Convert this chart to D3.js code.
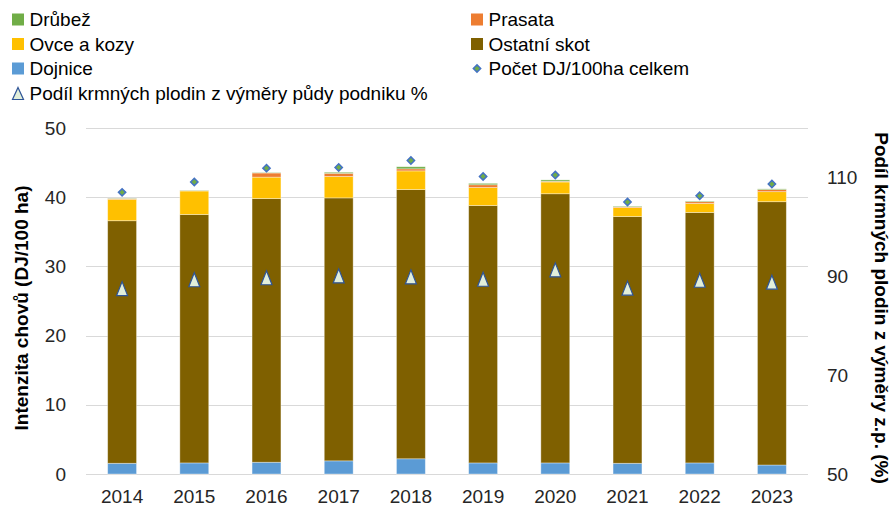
<!DOCTYPE html>
<html>
<head>
<meta charset="utf-8">
<script src="https://cdn.jsdelivr.net/npm/d3@7"></script>
<style>
  body { margin: 0; background: #fff; }
  svg { font-family: "Liberation Sans", Arial, sans-serif; }
</style>
</head>
<body>
<div id="graph"></div>
<script>
const years = ["2014", "2015", "2016", "2017", "2018", "2019", "2020", "2021", "2022", "2023"];

// stacked segments, DJ/100 ha
const dojnice     = [1.55, 1.6, 1.7, 1.9, 2.2, 1.6, 1.6, 1.55, 1.6, 1.3];
const ostatniSkot = [35.05, 35.9, 38.1, 38.0, 38.9, 37.2, 38.9, 35.65, 36.2, 38.05];
const ovceKozy    = [3.1, 3.4, 3.1, 3.1, 2.7, 2.6, 1.7, 1.3, 1.3, 1.45];
const prasata     = [0.1, 0.05, 0.6, 0.45, 0.3, 0.4, 0.1, 0.1, 0.25, 0.3];
const drubez      = [0.05, 0.05, 0.05, 0.15, 0.3, 0.2, 0.2, 0.1, 0.1, 0.1];

const pocetDJ = [40.7, 42.2, 44.2, 44.3, 45.3, 43.0, 43.2, 39.3, 40.2, 41.9];
const podilKrmnych = [87.5, 89.3, 89.7, 90.1, 89.9, 89.4, 91.3, 87.6, 89.2, 88.8];

const leftTicks = [0, 10, 20, 30, 40, 50];
const rightTicks = [50, 70, 90, 110];

const width = 893;
const height = 509;
const marginLeft = 86;
const marginRight = 85;
const marginTop = 128;
const marginBottom = 35;
const fontSize = 19;

const series = [
  { key: "Dojnice", values: dojnice, color: "#5b9bd5" },
  { key: "Ostatní skot", values: ostatniSkot, color: "#7f6000" },
  { key: "Ovce a kozy", values: ovceKozy, color: "#ffc000" },
  { key: "Prasata", values: prasata, color: "#ed7d31" },
  { key: "Drůbež", values: drubez, color: "#70ad47" }
];

const table = years.map((y, i) => {
  const row = { year: y };
  series.forEach(s => row[s.key] = s.values[i]);
  return row;
});

const stack = d3.stack().keys(series.map(s => s.key));
const stacked = stack(table);

const x = d3.scaleBand()
            .domain(years)
            .range([marginLeft, width - marginRight])
            .paddingInner(0.6)
            .paddingOuter(0.3);

const y = d3.scaleLinear()
            .domain([0, 50])
            .range([height - marginBottom, marginTop]);

const y2 = d3.scaleLinear()
             .domain([50, 120])
             .range([height - marginBottom, marginTop]);

const svg = d3.create("svg")
              .attr("width", width)
              .attr("height", height)
              .attr("viewBox", `0 0 ${width} ${height}`);

// gridlines
svg.append("g")
   .selectAll("line")
   .data(leftTicks)
   .join("line")
   .attr("x1", marginLeft)
   .attr("x2", width - marginRight)
   .attr("y1", d => Math.round(y(d)) + 0.5)
   .attr("y2", d => Math.round(y(d)) + 0.5)
   .attr("stroke", "#d9d9d9")
   .attr("stroke-width", 1);

function styleTicks(g) {
  g.select(".domain").remove();
  g.selectAll("text")
   .attr("font-size", fontSize)
   .attr("fill", "#262626")
   .attr("font-family", "Liberation Sans, Arial, sans-serif");
}

// left axis
svg.append("g")
   .attr("transform", `translate(${marginLeft}, 0)`)
   .call(d3.axisLeft(y).tickValues(leftTicks).tickSize(0).tickPadding(20))
   .call(styleTicks);

// right axis
svg.append("g")
   .attr("transform", `translate(${width - marginRight}, 0)`)
   .call(d3.axisRight(y2).tickValues(rightTicks).tickSize(0).tickPadding(19))
   .call(styleTicks);

// x axis
svg.append("g")
   .attr("transform", `translate(0, ${height - marginBottom})`)
   .call(d3.axisBottom(x).tickSize(0).tickPadding(16))
   .call(styleTicks);

// stacked bars
svg.append("g")
   .selectAll("g")
   .data(stacked)
   .join("g")
   .attr("fill", d => series.find(s => s.key === d.key).color)
   .selectAll("rect")
   .data(d => d)
   .join("rect")
   .attr("x", d => x(d.data.year))
   .attr("y", d => y(d[1]))
   .attr("width", x.bandwidth())
   .attr("height", d => y(d[0]) - y(d[1]))
   .attr("stroke", "#ffffff")
   .attr("stroke-opacity", 0.45)
   .attr("stroke-width", 0.8);

// Počet DJ/100ha celkem markers
const diamond = d3.symbol().type(d3.symbolDiamond2).size(34);
svg.append("g")
   .selectAll("path")
   .data(pocetDJ)
   .join("path")
   .attr("d", diamond)
   .attr("transform", (d, i) => `translate(${x(years[i]) + x.bandwidth() / 2}, ${y(d)})`)
   .attr("fill", "#70ad47")
   .attr("stroke", "#4472c4")
   .attr("stroke-width", 1.5);

// Podíl krmných plodin markers
const triPath = (w, h) => `M0,${-h / 2}L${w / 2},${h / 2}L${-w / 2},${h / 2}Z`;
svg.append("g")
   .selectAll("path")
   .data(podilKrmnych)
   .join("path")
   .attr("d", triPath(11, 14))
   .attr("transform", (d, i) => `translate(${x(years[i]) + x.bandwidth() / 2}, ${y2(d)})`)
   .attr("fill", "#e2efda")
   .attr("stroke", "#2f5597")
   .attr("stroke-width", 1.2);

// axis titles
svg.append("text")
   .attr("transform", "translate(21, 308) rotate(-90)")
   .attr("text-anchor", "middle")
   .attr("dy", "0.35em")
   .attr("font-size", fontSize)
   .attr("font-weight", "bold")
   .attr("fill", "#000")
   .text("Intenzita chovů (DJ/100 ha)");

svg.append("text")
   .attr("transform", "translate(882, 308) rotate(90)")
   .attr("text-anchor", "middle")
   .attr("dy", "0.35em")
   .attr("font-size", fontSize)
   .attr("font-weight", "bold")
   .attr("fill", "#000")
   .text("Podíl krmných plodin z výměry z.p. (%)");

// legend
const legendItems = [
  { label: "Drůbež", color: "#70ad47", type: "rect", col: 0, row: 0 },
  { label: "Prasata", color: "#ed7d31", type: "rect", col: 1, row: 0 },
  { label: "Ovce a kozy", color: "#ffc000", type: "rect", col: 0, row: 1 },
  { label: "Ostatní skot", color: "#7f6000", type: "rect", col: 1, row: 1 },
  { label: "Dojnice", color: "#5b9bd5", type: "rect", col: 0, row: 2 },
  { label: "Počet DJ/100ha celkem", color: "#70ad47", type: "diamond", col: 1, row: 2 },
  { label: "Podíl krmných plodin z výměry půdy podniku %", color: "#e2efda", type: "tri", col: 0, row: 3 }
];
const legendX = [12, 471];
const legendY = [19.5, 44, 68.5, 93.5];

const legend = svg.append("g")
                  .selectAll("g")
                  .data(legendItems)
                  .join("g")
                  .attr("transform", d => `translate(${legendX[d.col]}, ${legendY[d.row]})`);

legend.filter(d => d.type === "rect")
      .append("rect")
      .attr("x", 0)
      .attr("y", -6)
      .attr("width", 12)
      .attr("height", 12)
      .attr("fill", d => d.color);

legend.filter(d => d.type === "diamond")
      .append("path")
      .attr("d", diamond)
      .attr("transform", "translate(6, 0)")
      .attr("fill", "#70ad47")
      .attr("stroke", "#4472c4")
      .attr("stroke-width", 1.5);

legend.filter(d => d.type === "tri")
      .append("path")
      .attr("d", triPath(11, 12))
      .attr("transform", "translate(6, 0)")
      .attr("fill", "#e2efda")
      .attr("stroke", "#2f5597")
      .attr("stroke-width", 1.2);

legend.append("text")
      .attr("x", 17.5)
      .attr("y", 0)
      .attr("dy", "0.35em")
      .attr("font-size", fontSize)
      .attr("fill", "#000")
      .text(d => d.label);

document.getElementById("graph").append(svg.node());
</script>
</body>
</html>
